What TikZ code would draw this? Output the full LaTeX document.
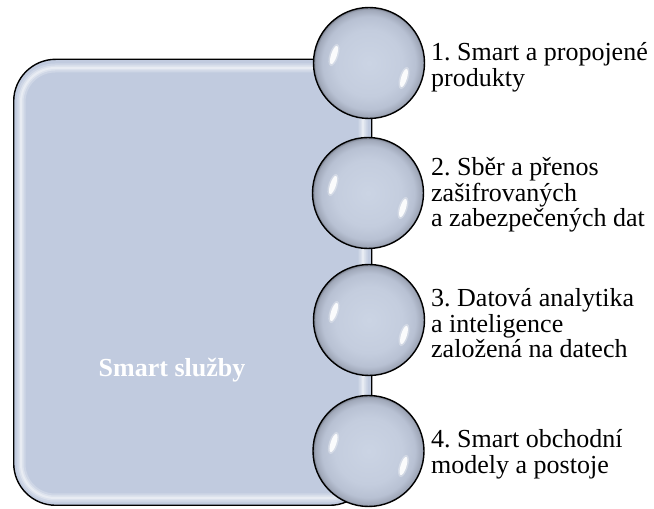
\documentclass[tikz,border=0pt]{standalone}
\usepackage{fontspec}
\setmainfont{Liberation Serif}
\frenchspacing
\definecolor{boxfill}{RGB}{193,203,223}
\definecolor{bcA}{RGB}{203,212,228}
\definecolor{bcB}{RGB}{196,205,222}
\definecolor{bcC}{RGB}{184,193,211}
\definecolor{bcD}{RGB}{160,168,185}
\definecolor{bcE}{RGB}{120,126,140}
\pgfdeclareradialshading{ballshade}{\pgfpoint{0bp}{0bp}}{%
  color(0bp)=(bcA); color(15bp)=(bcB); color(21bp)=(bcC);
  color(24bp)=(bcD); color(25bp)=(bcE); color(50bp)=(bcE)}
\begin{document}
\frenchspacing
\begin{tikzpicture}[x=1pt,y=1pt,
  lbl/.style={anchor=north west, inner sep=0pt, align=left,
    font=\fontsize{26}{25.5}\selectfont},
  ballnode/.style={circle, draw=black, line width=1.4pt, shading=ballshade,
    minimum size=111pt, inner sep=0pt}
]
\useasboundingbox (0,0) rectangle (654,509);
% main box
\node[draw=black, line width=1.4pt, fill=boxfill, rounded corners=42pt,
  minimum width=358pt, minimum height=446pt, inner sep=0pt, anchor=south west]
  (box) at (13,3) {};
% inner glow
\draw[white, line width=9pt, opacity=.22, rounded corners=34pt]
  (21,11) rectangle (363,441);
\draw[white, line width=5pt, opacity=.3, rounded corners=34pt]
  (21,11) rectangle (363,441);
\draw[white, line width=2pt, opacity=.35, rounded corners=34pt]
  (21,11) rectangle (363,441);
% title
\node[anchor=base, text=white, font=\fontsize{26}{30}\selectfont\bfseries]
  (title) at (172,132) {Smart služby};
% balls
\node[ballnode] (c1) at (369,446) {};
\node[ballnode] (c2) at (368,316) {};
\node[ballnode] (c3) at (369,189) {};
\node[ballnode] (c4) at (368.5,58) {};
\foreach \c in {c1,c2,c3,c4}{
  \begin{scope}[shift={(\c.center)}]
    \begin{scope}[shift={(-35,8)}, rotate=72]
      \fill[white, opacity=.3] (0,0) ellipse (11.5 and 4.5);
      \fill[white, opacity=.9] (0,0) ellipse (9.5 and 2.9);
    \end{scope}
    \begin{scope}[shift={(35,-15)}, rotate=73]
      \fill[white, opacity=.3] (0,0) ellipse (11.5 and 4.5);
      \fill[white, opacity=.9] (0,0) ellipse (9.5 and 2.9);
    \end{scope}
  \end{scope}
}
% labels
\node[lbl] (l1) at (431,466.7) {1. Smart a propojené\\produkty};
\node[lbl] (l2) at (431,351.7) {2. Sběr a přenos\\zašifrovaných\\a zabezpečených dat};
\node[lbl] (l3) at (431,220.7) {3. Datová analytika\\a inteligence\\založená na datech};
\node[lbl] (l4) at (431,79.7) {4. Smart obchodní\\modely a postoje};
\end{tikzpicture}
\end{document}
